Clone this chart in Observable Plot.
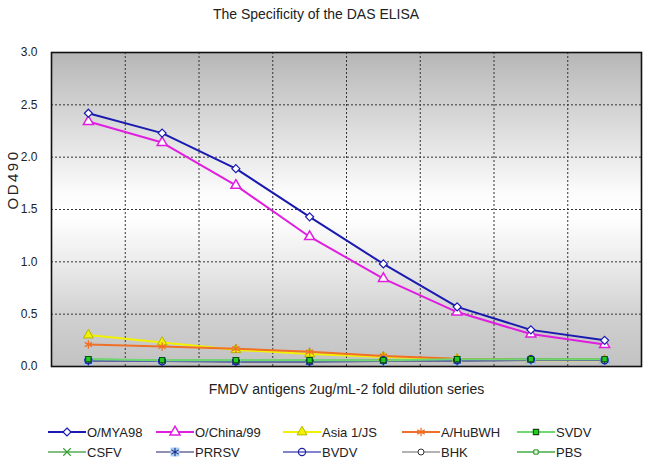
<!DOCTYPE html>
<html>
<head>
<meta charset="utf-8">
<script src="https://cdn.jsdelivr.net/npm/d3@7"></script>
<script src="https://cdn.jsdelivr.net/npm/@observablehq/plot@0.6"></script>
<style>
  html, body { margin: 0; padding: 0; background: #fff; }
  body { width: 650px; height: 464px; overflow: hidden; font-family: "Liberation Sans", Arial, sans-serif; color: #222; }
  #title { height: 28px; line-height: 28px; font-size: 14px; text-align: center; padding-right: 18px; }
  #legend { font-size: 13px; padding-left: 48px; padding-top: 2px; }
  .row { display: flex; height: 20px; align-items: center; }
  .item { display: flex; align-items: center; }
  .item svg { display: block; margin-right: 1px; }
</style>
</head>
<body>
<div id="title">The Specificity of the DAS ELISA</div>
<div id="chart"></div>
<div id="legend"></div>
<script>
// dilution steps (2-fold series)
const steps = [1, 2, 3, 4, 5, 6, 7, 8];
const yTicks = [0, 0.5, 1.0, 1.5, 2.0, 2.5, 3.0];
const xTitle = "FMDV antigens 2ug/mL-2 fold dilution series";
const yTitle = "OD490";

const names = ["O/MYA98", "O/China/99", "Asia 1/JS", "A/HuBWH", "SVDV", "CSFV", "PRRSV", "BVDV", "BHK", "PBS"];
const oMYA98   = [2.42, 2.23, 1.89, 1.43, 0.98, 0.57, 0.35, 0.25];
const oChina99 = [2.34, 2.14, 1.73, 1.24, 0.84, 0.52, 0.31, 0.21];
const asia1JS  = [0.30, 0.23, 0.16, 0.12, 0.09, 0.07, 0.06, 0.06];
const aHuBWH   = [0.21, 0.19, 0.17, 0.14, 0.10, 0.075, 0.07, 0.07];
const svdv     = [0.07, 0.06, 0.06, 0.06, 0.06, 0.07, 0.07, 0.07];
const csfv     = [0.06, 0.05, 0.05, 0.05, 0.05, 0.06, 0.06, 0.06];
const prrsv    = [0.05, 0.05, 0.04, 0.04, 0.05, 0.05, 0.06, 0.06];
const bvdv     = [0.06, 0.05, 0.05, 0.05, 0.06, 0.06, 0.07, 0.06];
const bhk      = [0.05, 0.05, 0.05, 0.05, 0.05, 0.05, 0.06, 0.06];
const pbs      = [0.07, 0.06, 0.06, 0.06, 0.06, 0.06, 0.07, 0.07];
const values = [oMYA98, oChina99, asia1JS, aHuBWH, svdv, csfv, prrsv, bvdv, bhk, pbs];

// styles per series
const styles = {
  "O/MYA98":   {line: "#1a1ab0", lw: 2,   symbol: "diamond2", r: 3.6, fill: "#ffffff", stroke: "#1a1ab0", sw: 1.2},
  "O/China/99":{line: "#e01ee0", lw: 2,   symbol: "triangle", r: 3.7, fill: "#ffffff", stroke: "#e01ee0", sw: 1.5},
  "Asia 1/JS": {line: "#f2f200", lw: 2,   symbol: "triangle", r: 3.7, fill: "#f2f200", stroke: "#b4b400", sw: 1},
  "A/HuBWH":   {line: "#f07028", lw: 2,   symbol: "asterisk", r: 4,   fill: "none",    stroke: "#f07028", sw: 1.3},
  "SVDV":      {line: "#70d870", lw: 2,   symbol: "square",   r: 3,   fill: "#22cc22", stroke: "#0a500a", sw: 1.1},
  "CSFV":      {line: "#5aa85a", lw: 1.5, symbol: "times",    r: 3.5, fill: "none",    stroke: "#30a030", sw: 1.1},
  "PRRSV":     {line: "#6a6a9a", lw: 1.5, symbol: "asterisk", r: 4,   fill: "none",    stroke: "#1a2a8a", sw: 1.1, bg: "#a8cdf2"},
  "BVDV":      {line: "#5a5abc", lw: 1.5, symbol: "circle",   r: 3.6, fill: "none",    stroke: "#2020a0", sw: 1.2},
  "BHK":       {line: "#9a9a9a", lw: 1.5, symbol: "circle",   r: 3,   fill: "#ffffff", stroke: "#333333", sw: 1},
  "PBS":       {line: "#44aa44", lw: 1.5, symbol: "square",   r: 2.4, fill: "#e8ffe8", stroke: "#228822", sw: 1}
};

const data = names.flatMap((name, i) => steps.map((s, j) => ({series: name, step: s, od: values[i][j]})));
const boundaries = steps.slice(1).map(s => s - 0.5);
const drawOrder = ["Asia 1/JS", "A/HuBWH", "PBS", "BHK", "CSFV", "PRRSV", "BVDV", "SVDV", "O/China/99", "O/MYA98"];

const lineMarks = drawOrder.map(n => Plot.line(data.filter(d => d.series === n), {
  x: "step", y: "od", stroke: styles[n].line, strokeWidth: styles[n].lw
}));
const dotMarks = drawOrder.flatMap(n => {
  const st = styles[n];
  const sub = data.filter(d => d.series === n);
  const m = [];
  if (st.bg) m.push(Plot.dot(sub, {x: "step", y: "od", symbol: "square", r: 5, fill: st.bg, stroke: "none"}));
  m.push(Plot.dot(sub, {x: "step", y: "od", symbol: st.symbol, r: st.r, fill: st.fill, stroke: st.stroke, strokeWidth: st.sw}));
  return m;
});

const chart = Plot.plot({
  width: 650,
  height: 392,
  marginTop: 24,
  marginLeft: 51,
  marginRight: 9,
  marginBottom: 54,
  x: {domain: [0.5, 8.5], axis: null},
  y: {domain: [0, 3], ticks: yTicks, tickFormat: d3.format(".1f"), tickSize: 0, tickPadding: 14, label: null},
  style: {fontFamily: "'Liberation Sans', Arial, sans-serif", fontSize: "12px", color: "#222", background: "transparent"},
  marks: [
    Plot.frame({fill: "url(#bggrad)"}),
    Plot.ruleY(yTicks.filter(v => v > 0 && v < 3), {stroke: "#333", strokeDasharray: "2,2", strokeWidth: 1}),
    Plot.ruleX(boundaries, {stroke: "#333", strokeDasharray: "2,2", strokeWidth: 1}),
    ...lineMarks,
    ...dotMarks,
    Plot.frame({stroke: "#111", strokeWidth: 1.6}),
    Plot.text([xTitle], {frameAnchor: "bottom", dy: 27, text: d => d, fontSize: 14, fill: "#222"}),
    Plot.text([yTitle], {frameAnchor: "left", dx: -38, rotate: -90, text: d => d, fontSize: 15, fill: "#222"})
  ]
});

const svg = d3.select(chart.tagName.toLowerCase() === "svg" ? chart : chart.querySelector("svg"));
const grad = svg.insert("defs", ":first-child").append("linearGradient")
  .attr("id", "bggrad").attr("x1", 0).attr("y1", 0).attr("x2", 0).attr("y2", 1);
[[0, "#b6b6b6"], [0.2, "#d6d6d6"], [0.45, "#fcfcfc"], [0.52, "#ffffff"], [0.65, "#eeeeee"], [0.85, "#cfcfcf"], [1, "#c2c2c2"]]
  .forEach(([o, c]) => grad.append("stop").attr("offset", o).attr("stop-color", c));
svg.selectAll("text").filter(function() { return this.textContent === yTitle; }).style("letter-spacing", "2.5px");
document.getElementById("chart").appendChild(chart);

// legend
const colWidths = [108, 127, 119, 115, 100];
const rows = [names.slice(0, 5), names.slice(5)];
const legend = d3.select("#legend");
const symMap = {diamond2: d3.symbolDiamond2, triangle: d3.symbolTriangle, asterisk: d3.symbolAsterisk,
  square: d3.symbolSquare, times: d3.symbolTimes, circle: d3.symbolCircle};
rows.forEach(row => {
  const r = legend.append("div").attr("class", "row");
  row.forEach((n, i) => {
    const st = styles[n];
    const it = r.append("div").attr("class", "item").style("width", colWidths[i] + "px");
    const s = it.append("svg").attr("width", 38).attr("height", 20);
    s.append("line").attr("x1", 0).attr("x2", 38).attr("y1", 10).attr("y2", 10)
      .attr("stroke", st.line).attr("stroke-width", st.lw);
    const area = Math.PI * st.r * st.r;
    if (st.bg) s.append("path").attr("transform", "translate(19,10)")
      .attr("d", d3.symbol(d3.symbolSquare, Math.PI * 25)()).attr("fill", st.bg);
    s.append("path").attr("transform", "translate(19,10)")
      .attr("d", d3.symbol(symMap[st.symbol], area)())
      .attr("fill", st.fill).attr("stroke", st.stroke).attr("stroke-width", st.sw);
    it.append("span").text(n);
  });
});
</script>
</body>
</html>
